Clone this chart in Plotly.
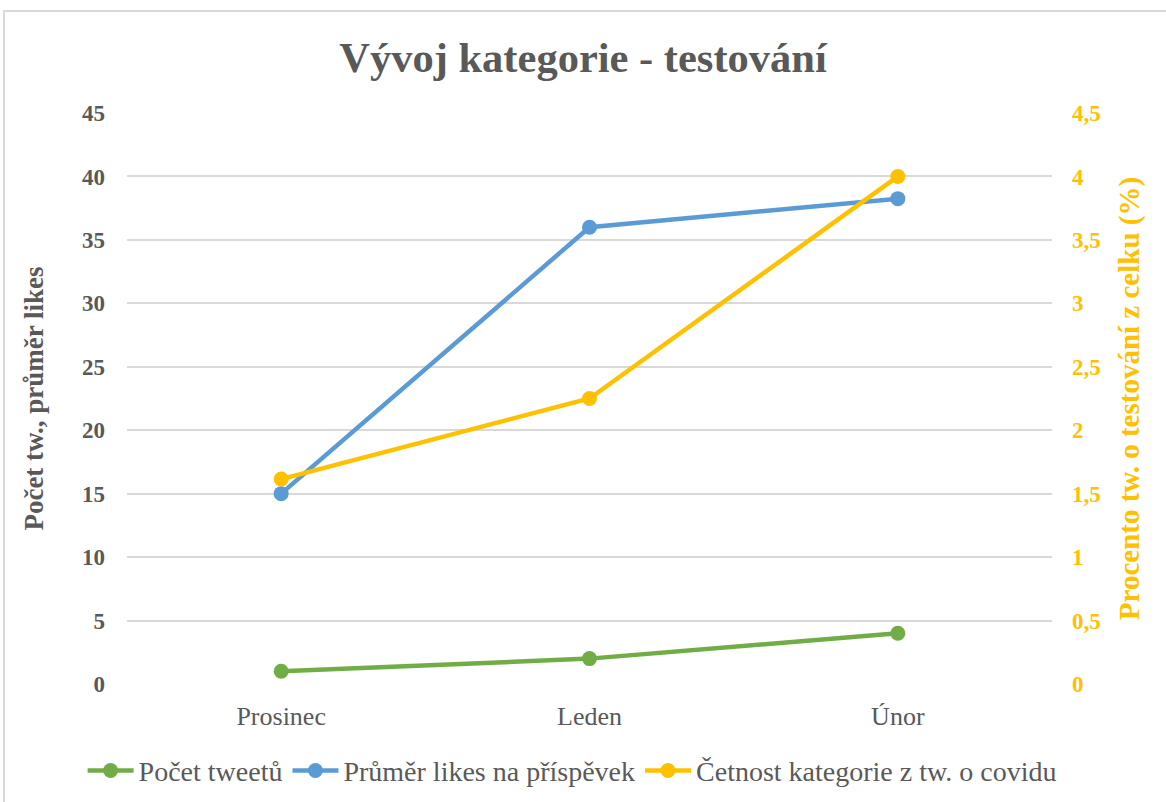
import plotly.graph_objects as go

months = ["Prosinec", "Leden", "Únor"]
pocet_tweetu = [1, 2, 4]
prumer_likes = [15, 36, 38.25]
cetnost_pct = [1.615, 2.25, 4.0]

left_ticks = list(range(0, 50, 5))
right_ticks = [0, 0.5, 1, 1.5, 2, 2.5, 3, 3.5, 4, 4.5]

GREEN = "#70AD47"
BLUE = "#5B9BD5"
GOLD = "#FFC000"
GRAY = "#595959"
FONT = "Liberation Serif"

fig = go.Figure()
fig.add_trace(go.Scatter(x=months, y=pocet_tweetu, name="Počet tweetů",
                         mode="lines+markers", line=dict(color=GREEN, width=4.5),
                         marker=dict(size=15, color=GREEN)))
fig.add_trace(go.Scatter(x=months, y=prumer_likes, name="Průměr likes na příspěvek",
                         mode="lines+markers", line=dict(color=BLUE, width=4.5),
                         marker=dict(size=15, color=BLUE)))
fig.add_trace(go.Scatter(x=months, y=cetnost_pct, name="Četnost kategorie z tw. o covidu",
                         mode="lines+markers", line=dict(color=GOLD, width=4.5),
                         marker=dict(size=15, color=GOLD), yaxis="y2"))

fig.update_layout(
    width=1166, height=802,
    paper_bgcolor="white", plot_bgcolor="white",
    separators=", ",
    font=dict(family=FONT, color=GRAY),
    margin=dict(l=127, r=114, t=113, b=118, autoexpand=False),
    title=dict(text="<b>Vývoj kategorie - testování</b>", x=0.5, xanchor="center",
               y=0.929, yanchor="middle", font=dict(size=42.5, color=GRAY, family=FONT)),
    xaxis=dict(range=[-0.5, 2.5], showgrid=False, showline=False, ticks="",
               tickfont=dict(size=26, color=GRAY), ticklabelstandoff=14, automargin=False),
    yaxis=dict(range=[0, 45], tickvals=left_ticks, showgrid=True, gridcolor="#D9D9D9",
               gridwidth=2, zeroline=False, showline=False, automargin=False,
               tickfont=dict(size=23, color=GRAY, family=FONT, weight="bold"),
               ticklabelstandoff=21,
               title=dict(text="<b>Počet tw., průměr likes</b>", standoff=30,
                          font=dict(size=27, color=GRAY))),
    yaxis2=dict(range=[0, 4.5], tickvals=right_ticks, overlaying="y", side="right",
                showgrid=False, zeroline=False, showline=False, automargin=False,
                tickfont=dict(size=23, color=GOLD, family=FONT, weight="bold"),
                ticklabelstandoff=19,
                title=dict(text="<b>Procento tw. o testování z celku (%)</b>", standoff=18,
                           font=dict(size=29, color=GOLD))),
    legend=dict(orientation="h", x=-0.048, xanchor="left", y=-0.152, yanchor="middle",
                font=dict(size=28, color=GRAY), itemwidth=46, bgcolor="rgba(0,0,0,0)"),
    shapes=[
        dict(type="rect", xref="paper", yref="paper", x0=-0.133, x1=1.2, y0=-0.3, y1=1.1786,
             line=dict(color="#D9D9D9", width=2), fillcolor="rgba(0,0,0,0)", layer="below"),
    ],
)

fig.write_html("out.html", config={"displayModeBar": False},
               post_script="document.body.style.margin='0';")
